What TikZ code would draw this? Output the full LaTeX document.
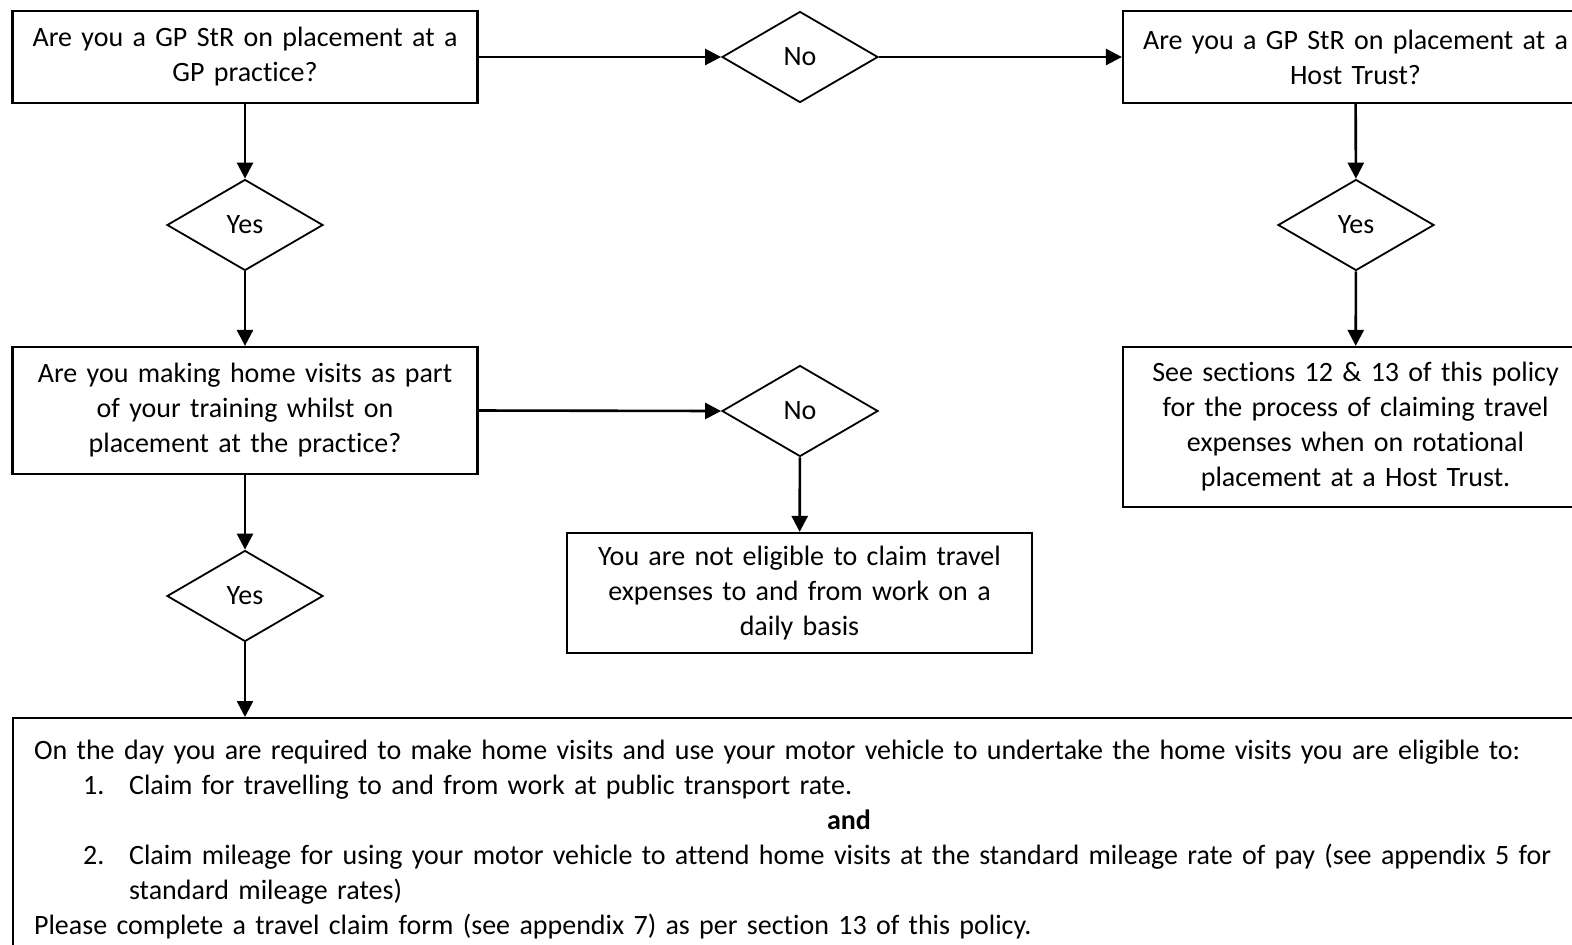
\documentclass[tikz,border=0pt]{standalone}
\usepackage{fontspec}
\setmainfont{Carlito}[Ligatures=NoCommon]
\usepackage{tikz}
\usetikzlibrary{arrows.meta, positioning, shapes.geometric}
\tikzset{
  every picture/.style={font=\fontsize{14}{17.5}\selectfont, >={Triangle[length=8pt, width=8pt]}},
  caja/.style={draw, line width=1.1pt, text width=220pt, inner xsep=6.25pt, inner ysep=0pt, align=center},
  rombo/.style={draw, diamond, line width=0.9pt, minimum width=78pt, minimum height=45.5pt, inner sep=0pt},
  flecha/.style={->, line width=1.3pt},
}

\begin{document}
\begin{tikzpicture}[x=0.5pt, y=-0.5pt]
  \clip (0,0) rectangle (1572,944);
  % columna izquierda
  \node[caja, minimum height=46pt] (gp) at (245,57) {Are you a GP StR on placement at a\\GP practice?};
  \node[rombo] (si1) at (245,225) {Yes};
  \node[caja, minimum height=63.5pt] (visitas) at (245,410.5) {Are you making home visits as part\\of your training whilst on\\placement at the practice?};
  \node[rombo] (si3) at (245,596) {Yes};
  % centro
  \node[rombo] (no1) at (800,57) {No};
  \node[rombo] (no2) at (800,411) {No};
  \node[caja, minimum height=60pt] (noel) at (799.5,593) {You are not eligible to claim travel\\expenses to and from work on a\\daily basis};
  % derecha
  \node[caja, minimum height=46pt] (host) at (1355.5,57) {Are you a GP StR on placement at a\\Host Trust?};
  \node[rombo] (si2) at (1356,225) {Yes};
  \node[caja, minimum height=80pt] (ver) at (1355.5,427) {See sections 12 \& 13 of this policy\\for the process of claiming travel\\expenses when on rotational\\placement at a Host Trust.};
  % caja final
  \node[caja, text width=767pt, inner xsep=10.5pt, inner ysep=1pt, align=left, minimum height=121pt, anchor=north west] (final) at (12,717)
    {On the day you are required to make home visits and use your motor vehicle to undertake the home visits you are eligible to:\\
     \hspace*{24.5pt}\makebox[23pt][l]{1.}Claim for travelling to and from work at public transport rate.\\
     \hspace*{396.5pt}\textbf{and}\\
     \hspace*{24.5pt}\makebox[23pt][l]{2.}Claim mileage for using your motor vehicle to attend home visits at the standard mileage rate of pay (see appendix 5 for\\
     \hspace*{47.5pt}standard mileage rates)\\
     Please complete a travel claim form (see appendix 7) as per section 13 of this policy.};
  \draw[flecha] (gp) -- (si1);
  \draw[flecha] (si1) -- (visitas);
  \draw[flecha] (visitas) -- (si3);
  \draw[flecha] (si3) -- (si3 |- final.north);
  \draw[flecha] (gp) -- (no1);
  \draw[flecha] (no1) -- (host);
  \draw[flecha] (host) -- (si2);
  \draw[flecha] (si2) -- (ver);
  \draw[flecha] (visitas.east) -- (no2.west);
  \draw[flecha] (no2) -- (noel);
\end{tikzpicture}
\end{document}
